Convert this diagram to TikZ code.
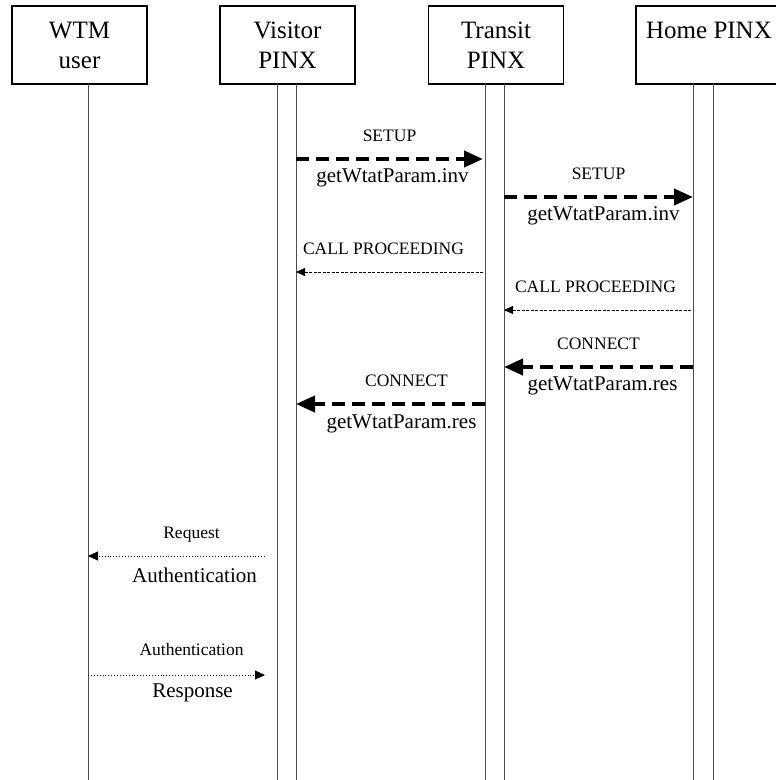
\documentclass[tikz,border=0pt]{standalone}
\usepackage{fontspec}
\setmainfont{Liberation Serif}
\usetikzlibrary{arrows.meta,calc}
\tikzset{
    entity/.style = {draw, rectangle, line width=1.6pt,
        minimum height=78pt,
        minimum width=135pt,
        align=center, font=\fontsize{25}{30}\selectfont},
    life/.style = {draw, line width=0.9pt, color=black!70},
    msg/.style = {draw, line width=4pt, dash pattern=on 13pt off 7pt,
        -{Triangle[length=19pt,width=16pt]}},
    ack/.style = {draw, line width=0.8pt, dash pattern=on 3pt off 1.5pt,
        -{Triangle[length=9pt,width=8pt]}},
    loc/.style = {draw, line width=0.9pt, dotted,
        -{Triangle[length=10pt,width=9pt]}},
    up/.style = {midway, anchor=base, yshift=18pt, font=\fontsize{17.5}{20}\selectfont},
    down/.style = {midway, anchor=base, yshift=-23pt, font=\fontsize{21}{24}\selectfont}
}
\begin{document}
\begin{tikzpicture}[x=1pt,y=-1pt]
                \useasboundingbox (0,0) rectangle (776,780);
                % entities
                \node[entity] (wtm) at (79.5,45) {WTM\\user};
                \node[entity] (visitor) at (287.5,45) {Visitor\\PINX};
                \node[entity] (transit) at (496,45) {Transit\\PINX};
                \node[entity,minimum width=146pt] (home) at (709,45) {Home PINX\\\mbox{}};
                % lifelines
                \coordinate (wtmT) at (88,84);     \coordinate (wtmB) at (88,780);
                \coordinate (visLT) at (277,84);   \coordinate (visLB) at (277,780);
                \coordinate (visRT) at (296,84);   \coordinate (visRB) at (296,780);
                \coordinate (trLT) at (485,84);    \coordinate (trLB) at (485,780);
                \coordinate (trRT) at (504,84);    \coordinate (trRB) at (504,780);
                \coordinate (homeLT) at (693,84);  \coordinate (homeLB) at (693,780);
                \coordinate (homeRT) at (713,84);  \coordinate (homeRB) at (713,780);
                \draw[life] (wtmT) -- (wtmB);
                \draw[life] (visLT) -- (visLB);
                \draw[life] (visRT) -- (visRB);
                \draw[life] (trLT) -- (trLB);
                \draw[life] (trRT) -- (trRB);
                \draw[life] (homeLT) -- (homeLB);
                \draw[life] (homeRT) -- (homeRB);
                % message ends
                \coordinate (setup1a) at (296,159);  \coordinate (setup1b) at (483,159);
                \coordinate (setup2a) at (504,197);  \coordinate (setup2b) at (693,197);
                \coordinate (proc1a) at (483,272);   \coordinate (proc1b) at (296,272);
                \coordinate (proc2a) at (691,310);   \coordinate (proc2b) at (504,310);
                \coordinate (conn2a) at (693,367);   \coordinate (conn2b) at (504,367);
                \coordinate (conn1a) at (485,404);   \coordinate (conn1b) at (296,404);
                \coordinate (reqa) at (265,556);     \coordinate (reqb) at (88,556);
                \coordinate (respa) at (88,675);     \coordinate (respb) at (265,675);
                % messages
                \draw[msg] (setup1a) -- node[up]{SETUP} node[down,xshift=3pt]{getWtatParam.inv} (setup1b);
                \draw[msg] (setup2a) -- node[up]{SETUP} node[down,xshift=5pt]{getWtatParam.inv} (setup2b);
                \draw[ack] (proc1a) -- node[up,xshift=-6pt]{CALL PROCEEDING} (proc1b);
                \draw[ack] (proc2a) -- node[up,xshift=-2pt]{CALL PROCEEDING} (proc2b);
                \draw[msg] (conn2a) -- node[up]{CONNECT} node[down,xshift=4pt]{getWtatParam.res} (conn2b);
                \draw[msg] (conn1a) -- node[up,xshift=16pt]{CONNECT} node[down,xshift=11pt,yshift=-1pt]{getWtatParam.res} (conn1b);
                \draw[loc] (reqa) -- node[up,xshift=15pt]{Request} node[down,xshift=18pt,yshift=-3pt]{Authentication} (reqb);
                \draw[loc] (respa) -- node[up,xshift=15pt,yshift=2pt]{Authentication} node[down,xshift=16pt,yshift=1pt]{Response} (respb);
            \end{tikzpicture}
\end{document}
